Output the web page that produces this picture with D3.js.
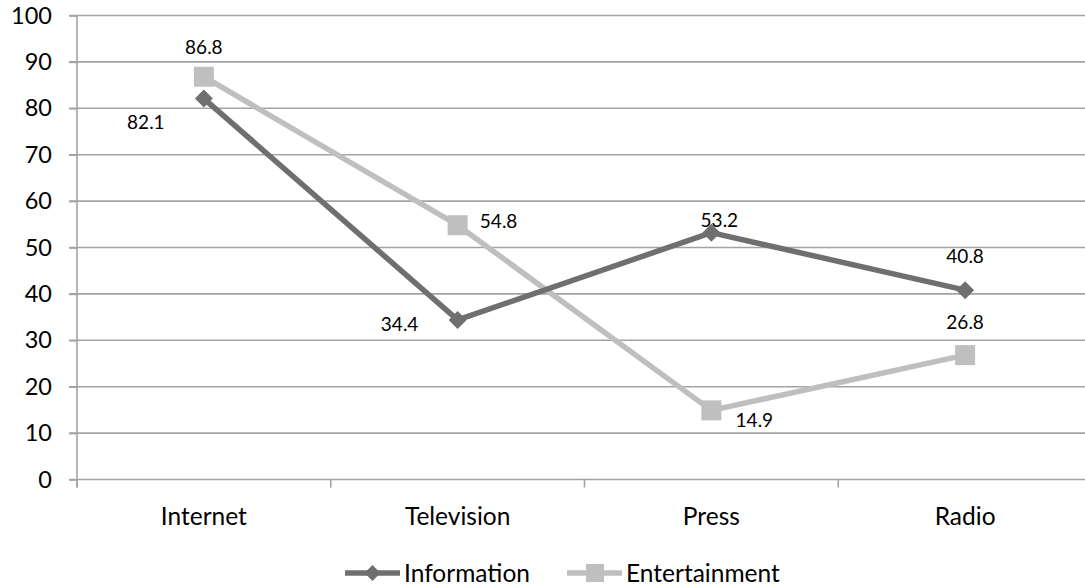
<!DOCTYPE html>
<html>
<head>
<meta charset="utf-8">
<script src="https://cdn.jsdelivr.net/npm/d3@7"></script>
<style>
  html, body { margin: 0; padding: 0; background: #fff; }
  svg { display: block; font-family: Lato, "Open Sans", sans-serif; }
</style>
</head>
<body>
<svg id="chart" width="1085" height="588"></svg>
<script>
// Media used for information vs. entertainment (%)
const categories = ["Internet", "Television", "Press", "Radio"];
const information = [82.1, 34.4, 53.2, 40.8];
const entertainment = [86.8, 54.8, 14.9, 26.8];
const yTicks = [0, 10, 20, 30, 40, 50, 60, 70, 80, 90, 100];

// Label placement per point (offsets from the marker, in px)
const infoLabelOffset = [[-58, 24], [-58, 4], [8, -12], [0, -34]];
const entLabelOffset = [[0, -29], [41, -4], [43, 10], [0, -33]];

const svg = d3.select("#chart");
const plotLeft = 77, plotRight = 1092, plotTop = 15.5, plotBottom = 479.5;

const x = d3.scaleBand().domain(categories).range([plotLeft, plotRight]).padding(0);
const y = d3.scaleLinear().domain([0, 100]).range([plotBottom, plotTop]);
const cx = c => x(c) + x.bandwidth() / 2;

const gridColor = "#a3a3a3";
const infoColor = "#6f6f6f";
const entColor = "#bfbfbf";

// horizontal gridlines
svg.append("g")
  .selectAll("line")
  .data(yTicks)
  .join("line")
  .attr("x1", plotLeft - 8).attr("x2", plotRight)
  .attr("y1", d => y(d)).attr("y2", d => y(d))
  .attr("stroke", gridColor).attr("stroke-width", 1.6);

// y axis
const yAxis = svg.append("g")
  .attr("transform", `translate(${plotLeft},0)`)
  .call(d3.axisLeft(y).tickValues(yTicks).tickSize(8).tickPadding(17));
yAxis.select(".domain").attr("stroke", gridColor).attr("stroke-width", 1.6)
  .attr("d", `M0,${plotTop}V${plotBottom + 8}`);
yAxis.selectAll(".tick line").attr("stroke", gridColor).attr("stroke-width", 1.6);
yAxis.selectAll(".tick text").attr("font-size", 23.5).attr("fill", "#000")
  .attr("font-family", "Lato, sans-serif");

// x axis: ticks at category boundaries
const boundaries = categories.map(c => x(c)).concat([plotRight]);
svg.append("g")
  .selectAll("line")
  .data(boundaries)
  .join("line")
  .attr("x1", d => d).attr("x2", d => d)
  .attr("y1", plotBottom).attr("y2", plotBottom + 8)
  .attr("stroke", gridColor).attr("stroke-width", 1.6);

svg.append("g")
  .selectAll("text")
  .data(categories)
  .join("text")
  .attr("x", d => cx(d))
  .attr("y", 525)
  .attr("text-anchor", "middle")
  .attr("font-size", 24.5)
  .attr("fill", "#000")
  .text(d => d);

const line = d3.line().x(d => cx(d.c)).y(d => y(d.v));

function drawSeries(values, color, marker, offsets) {
  const pts = values.map((v, i) => ({ c: categories[i], v, i }));
  svg.append("path")
    .datum(pts)
    .attr("d", line)
    .attr("fill", "none")
    .attr("stroke", color)
    .attr("stroke-width", 5.5)
    .attr("stroke-linejoin", "round");
  const m = svg.append("g").selectAll("g")
    .data(pts)
    .join("g")
    .attr("transform", d => `translate(${cx(d.c)},${y(d.v)})`);
  if (marker === "diamond") {
    m.append("path").attr("d", "M0,-9L9,0L0,9L-9,0Z").attr("fill", color);
  } else {
    m.append("rect").attr("x", -10).attr("y", -10).attr("width", 20).attr("height", 20).attr("fill", color);
  }
  svg.append("g").selectAll("text")
    .data(pts)
    .join("text")
    .attr("x", d => cx(d.c) + offsets[d.i][0])
    .attr("y", d => y(d.v) + offsets[d.i][1])
    .attr("dy", "0.35em")
    .attr("text-anchor", "middle")
    .attr("font-size", 19)
    .attr("fill", "#000")
    .text(d => d.v.toFixed(1));
}

drawSeries(entertainment, entColor, "square", entLabelOffset);
drawSeries(information, infoColor, "diamond", infoLabelOffset);

// legend
const legendItems = [
  { name: "Information", color: infoColor, marker: "diamond", x: 345 },
  { name: "Entertainment", color: entColor, marker: "square", x: 567 }
];
const ly = 573;
const lg = svg.append("g").selectAll("g").data(legendItems).join("g")
  .attr("transform", d => `translate(${d.x},${ly})`);
lg.append("line").attr("x1", 0).attr("x2", 55).attr("y1", 0).attr("y2", 0)
  .attr("stroke", d => d.color).attr("stroke-width", 5.5);
lg.each(function(d) {
  const g = d3.select(this);
  if (d.marker === "diamond") {
    g.append("path").attr("d", "M27.5,-8L35.5,0L27.5,8L19.5,0Z").attr("fill", d.color);
  } else {
    g.append("rect").attr("x", 19).attr("y", -9).attr("width", 18).attr("height", 18).attr("fill", d.color);
  }
});
lg.append("text").attr("x", 59).attr("y", 0).attr("dy", "0.35em")
  .attr("font-size", 24.5).attr("fill", "#000").text(d => d.name);
</script>
</body>
</html>
